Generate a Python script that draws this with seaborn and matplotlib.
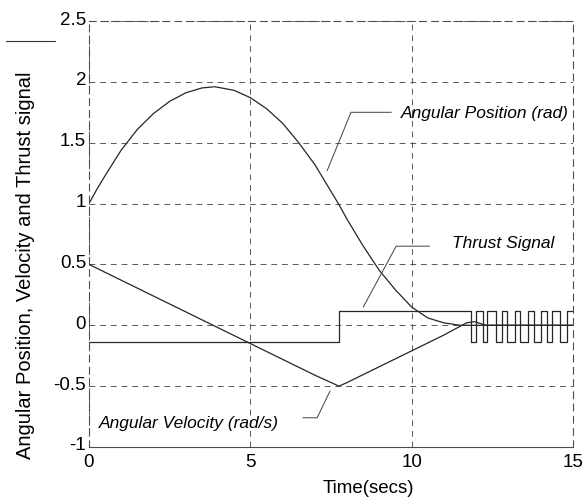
import matplotlib
matplotlib.use('Agg')
import matplotlib.pyplot as plt
from matplotlib.lines import Line2D
from matplotlib.transforms import ScaledTranslation
import numpy as np
import pandas as pd
import seaborn as sns

# values
pos_time = [0, 0.25, 0.5, 1, 1.5, 2, 2.5, 3, 3.5, 3.9, 4.5, 5, 5.5, 6, 6.5, 7,
            7.5, 7.75, 8, 8.5, 9, 9.5, 10, 10.5, 11, 11.5, 12, 13, 14, 15]
pos_value = [1.0, 1.12, 1.23, 1.44, 1.61, 1.74, 1.84, 1.91, 1.95, 1.96, 1.93, 1.87,
             1.78, 1.66, 1.50, 1.32, 1.10, 0.99, 0.87, 0.65, 0.45, 0.29, 0.15,
             0.06, 0.02, 0.0, 0.0, 0.0, 0.0, 0.0]

vel_time = [0, 1, 2, 3, 4, 5, 6, 7, 7.75, 8, 9, 10, 11, 11.7, 11.95, 12.3, 13, 14, 15]
vel_value = [0.5, 0.37, 0.24, 0.11, -0.02, -0.15, -0.28, -0.41, -0.5, -0.47,
             -0.34, -0.21, -0.08, 0.02, 0.03, 0.0, 0.0, 0.0, 0.0]

thrust_time = [0, 7.75, 11.85, 12.0, 12.2, 12.35, 12.6, 12.8, 12.95, 13.2, 13.35,
               13.6, 13.8, 14.0, 14.2, 14.35, 14.6, 14.8, 15]
thrust_value = [-0.14, 0.12, -0.14, 0.12, -0.14, 0.12, -0.14, 0.12, -0.14, 0.12,
                -0.14, 0.12, -0.14, 0.12, -0.14, 0.12, -0.14, 0.12, 0.12]

y_ticks = [-1, -0.5, 0, 0.5, 1, 1.5, 2, 2.5]
y_tick_labels = ['-1', '-0.5', '0', '0.5', '1', '1.5', '2', '2.5']
x_ticks = [0, 5, 10, 15]
x_tick_labels = ['0', '5', '10', '15']


def main():
    sns.set_style('white')
    plt.rcParams['font.family'] = ['Liberation Sans', 'DejaVu Sans']
    plt.rcParams['text.color'] = 'black'
    plt.rcParams['axes.labelcolor'] = 'black'
    plt.rcParams['xtick.color'] = 'black'
    plt.rcParams['ytick.color'] = 'black'

    fig = plt.figure(figsize=(5.85, 5.02), dpi=100)
    ax = fig.add_axes([89 / 585, 1 - 448 / 502, 484 / 585, 426 / 502])

    line_kw = dict(color='0.15', linewidth=0.9)
    pos = pd.DataFrame({'t': pos_time, 'v': pos_value})
    vel = pd.DataFrame({'t': vel_time, 'v': vel_value})
    thr = pd.DataFrame({'t': thrust_time, 'v': thrust_value})
    sns.lineplot(data=pos, x='t', y='v', ax=ax, **line_kw)
    sns.lineplot(data=vel, x='t', y='v', ax=ax, **line_kw)
    sns.lineplot(data=thr, x='t', y='v', ax=ax, drawstyle='steps-post', **line_kw)

    ax.set_xlim(0, 15)
    ax.set_ylim(-1, 2.5)
    ax.set_xticks(x_ticks, x_tick_labels)
    ax.set_yticks(y_ticks, y_tick_labels)
    ax.tick_params(axis='both', direction='in', length=3, labelsize=13.5, pad=2)
    ax.tick_params(axis='x', pad=4)
    # the y tick labels sit a little above their grid lines in the reference
    lift = ScaledTranslation(0, 4 / 100, fig.dpi_scale_trans)
    for lab in ax.get_yticklabels():
        lab.set_transform(lab.get_transform() + lift)
    ax.grid(True, color='0.35', linestyle=(0, (6, 5)), linewidth=0.7)

    for name, sp in ax.spines.items():
        sp.set_color('0.3')
        sp.set_linewidth(0.8)
        if name != 'bottom':
            sp.set_linestyle((0, (6, 5)))

    ax.set_xlabel('Time(secs)', fontsize=13.5)
    ax.set_ylabel('Angular Position, Velocity and Thrust signal', fontsize=14.5)
    ax.xaxis.set_label_coords((368 - 89) / 484, -0.075)
    ax.yaxis.set_label_coords(-0.112, 0.43)

    # leader lines and italic labels
    ax.plot([7.38, 8.12, 9.37], [1.27, 1.75, 1.75], color='0.25', linewidth=0.7)
    ax.text(9.68, 1.75, 'Angular Position (rad)', style='italic', fontsize=12.5,
            va='center', ha='left')
    ax.plot([8.50, 9.52, 10.55], [0.15, 0.65, 0.65], color='0.25', linewidth=0.7)
    ax.text(11.24, 0.68, 'Thrust Signal', style='italic', fontsize=12.5,
            va='center', ha='left')
    ax.plot([7.47, 7.07, 6.63], [-0.54, -0.76, -0.76], color='0.25', linewidth=0.7)
    ax.text(0.31, -0.80, 'Angular Velocity (rad/s)', style='italic', fontsize=12.5,
            va='center', ha='left')

    # stray short stroke at the top left of the page
    fig.add_artist(Line2D([6 / 585, 55 / 585], [1 - 42 / 502, 1 - 42 / 502],
                          color='0.2', linewidth=0.8))

    fig.savefig('out.png', dpi=100)


if __name__ == '__main__':
    main()
